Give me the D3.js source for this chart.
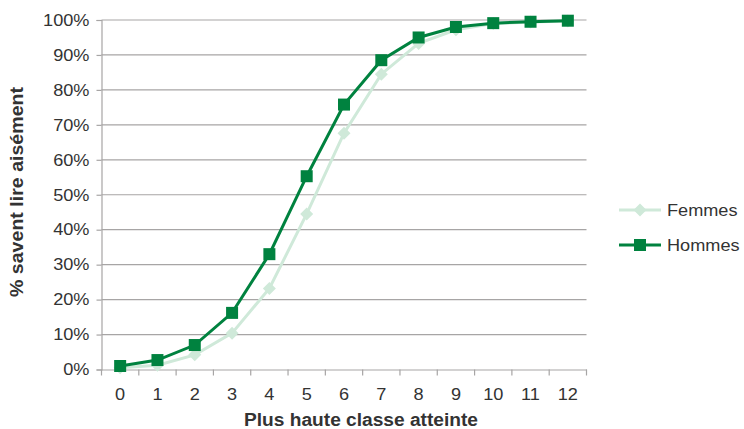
<!DOCTYPE html>
<html>
<head>
<meta charset="utf-8">
<script src="https://cdn.jsdelivr.net/npm/d3@7/dist/d3.min.js"></script>
<style>
  html, body { margin: 0; padding: 0; background: #fff; }
  svg { display: block; font-family: "Liberation Sans", Arial, sans-serif; }
</style>
</head>
<body>
<svg id="chart" width="744" height="429"></svg>
<script>
// Highest grade reached (0–12)
const grades = ["0", "1", "2", "3", "4", "5", "6", "7", "8", "9", "10", "11", "12"];
// Share able to read easily, in percent
const femmes = [0.5, 1.2, 4.2, 10.4, 23.2, 44.5, 67.6, 84.5, 93.3, 97.2, 99.0, 99.4, 99.7];
const hommes = [1.0, 2.7, 7.0, 16.2, 33.0, 55.3, 75.8, 88.5, 95.0, 98.0, 99.1, 99.5, 99.8];
const yTicks = [0, 10, 20, 30, 40, 50, 60, 70, 80, 90, 100];

const series = [
  { name: "Femmes", values: femmes, color: "#cfe9d9", marker: "diamond" },
  { name: "Hommes", values: hommes, color: "#00823f", marker: "square" }
];

const svg = d3.select("#chart");
const plotLeft = 101.5, plotRight = 586.5, plotTop = 20, plotBottom = 369.5;
const textColor = "#333";
const labelSize = 16.5;
const widen = 1.1; // slightly wide sans-serif lettering

const x = d3.scaleBand().domain(grades).range([plotLeft, plotRight]);
const y = d3.scaleLinear().domain([0, 100]).range([plotBottom, plotTop]);

// Horizontal gridlines
svg.append("g")
  .selectAll("line")
  .data(yTicks.filter(d => d > 0))
  .join("line")
  .attr("x1", plotLeft).attr("x2", plotRight)
  .attr("y1", d => y(d)).attr("y2", d => y(d))
  .attr("stroke", "#a7a5a5").attr("stroke-width", 1.2);

// Y axis
const yAxis = svg.append("g")
  .attr("transform", `translate(${plotLeft},0)`)
  .call(d3.axisLeft(y).tickValues(yTicks).tickFormat(d => d + "%").tickSize(5).tickPadding(6));
yAxis.select(".domain").attr("stroke", "#a7a5a5").attr("stroke-width", 1.2);
yAxis.selectAll(".tick line").attr("stroke", "#a7a5a5").attr("stroke-width", 1.2);
yAxis.selectAll(".tick text")
  .attr("font-size", labelSize).attr("fill", textColor)
  .attr("x", 0)
  .attr("transform", `translate(-12,0) scale(${widen},1)`);

// X axis: ticks sit on category boundaries
const xAxis = svg.append("g")
  .attr("transform", `translate(0,${plotBottom})`)
  .call(d3.axisBottom(x).tickSize(0).tickPadding(19));
xAxis.select(".domain").attr("stroke", "#a7a5a5").attr("stroke-width", 1.2);
xAxis.selectAll(".tick text")
  .attr("font-size", labelSize).attr("fill", textColor)
  .attr("transform", `scale(${widen},1)`);
svg.append("g")
  .selectAll("line")
  .data(d3.range(grades.length + 1))
  .join("line")
  .attr("x1", i => plotLeft + i * x.step())
  .attr("x2", i => plotLeft + i * x.step())
  .attr("y1", plotBottom).attr("y2", plotBottom + 6)
  .attr("stroke", "#a7a5a5").attr("stroke-width", 1.2);

// Axis titles
svg.append("text")
  .attr("x", 361).attr("y", 426)
  .attr("text-anchor", "middle")
  .attr("font-size", 17.5).attr("font-weight", "bold").attr("fill", textColor)
  .attr("textLength", 234).attr("lengthAdjust", "spacingAndGlyphs")
  .text("Plus haute classe atteinte");
svg.append("text")
  .attr("transform", "translate(23,192) rotate(-90)")
  .attr("text-anchor", "middle")
  .attr("font-size", 17.5).attr("font-weight", "bold").attr("fill", textColor)
  .attr("textLength", 210).attr("lengthAdjust", "spacingAndGlyphs")
  .text("% savent lire aisément");

const cx = i => x(grades[i]) + x.bandwidth() / 2;
const line = d3.line().x((d, i) => cx(i)).y(d => y(d));

function drawMarker(g, type, px, py, color) {
  if (type === "square") {
    g.append("rect")
      .attr("x", px - 6).attr("y", py - 6)
      .attr("width", 12).attr("height", 12)
      .attr("fill", color);
  } else {
    const s = 6.5;
    g.append("path")
      .attr("d", `M${px},${py - s}L${px + s},${py}L${px},${py + s}L${px - s},${py}Z`)
      .attr("fill", color);
  }
}

series.forEach(s => {
  const g = svg.append("g");
  g.append("path")
    .datum(s.values)
    .attr("d", line)
    .attr("fill", "none")
    .attr("stroke", s.color)
    .attr("stroke-width", 3);
  s.values.forEach((v, i) => drawMarker(g, s.marker, cx(i), y(v), s.color));
});

// Legend
series.forEach((s, i) => {
  const ly = 210 + i * 35;
  const g = svg.append("g");
  g.append("line")
    .attr("x1", 619).attr("x2", 661)
    .attr("y1", ly).attr("y2", ly)
    .attr("stroke", s.color).attr("stroke-width", 3);
  drawMarker(g, s.marker, 640, ly, s.color);
  g.append("text")
    .attr("transform", `translate(667,${ly + 6}) scale(${widen},1)`)
    .attr("font-size", labelSize).attr("fill", textColor)
    .text(s.name);
});
</script>
</body>
</html>
